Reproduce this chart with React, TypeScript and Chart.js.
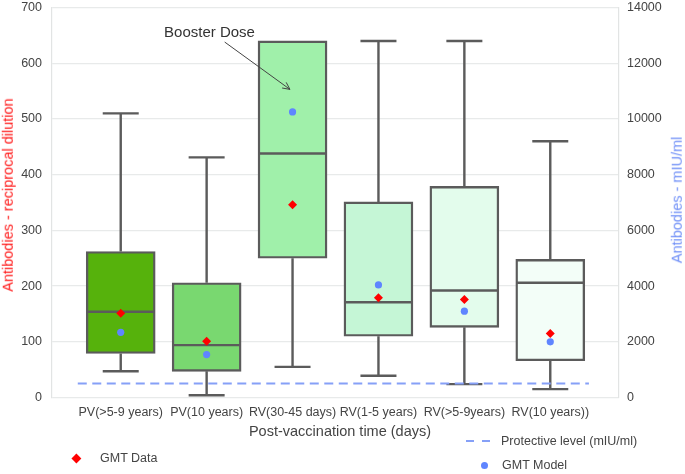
import React, { useEffect, useRef } from 'react';
import { Chart, registerables } from 'chart.js';

Chart.register(...registerables);

// ---------- data ----------
const categories = [
  'PV(>5-9 years)',
  'PV(10 years)',
  'RV(30-45 days)',
  'RV(1-5 years)',
  'RV(>5-9years)',
  'RV(10 years))',
];
const positions = [1, 2, 3, 4, 5, 6];
const whiskerMin = [47, 4, 55, 39, 24, 15];
const q1 = [79, 47, 250, 110, 126, 66];
const median = [154, 94, 438, 171, 192, 206];
const q3 = [262, 206, 640, 351, 379, 248];
const whiskerMax = [510, 431, 640, 640, 640, 460];
const gmtData = [151, 101, 346, 179, 176, 115]; // reciprocal dilution
const gmtModel = [2340, 1540, 10250, 4040, 3100, 2000]; // mIU/ml
const protectiveLevel = 500; // mIU/ml
const protectiveSpan = [0.5, 6.45];
const leftTicks = [0, 100, 200, 300, 400, 500, 600, 700];
const rightTicks = [0, 2000, 4000, 6000, 8000, 10000, 12000, 14000];
const boosterArrowFrom = { x: 2.21, y: 638 };
const boosterArrowTo = { x: 2.97, y: 553 };

// ---------- styles ----------
const boxColors = ['#56b20c', '#79d870', '#a0f0aa', '#c5f6d6', '#e3fcec', '#f3fef8'];
const edgeColor = '#5b5b5b';
const FONT = '"Liberation Sans", Arial, sans-serif';
const TEXT = '#444444';
const GRID = '#e8eaea';

const boxPlugin = {
  id: 'boxWhisker',
  afterDatasetDraw(chart: any, args: any) {
    if (args.index !== 0) return;
    const { ctx } = chart;
    const x = chart.scales.x;
    const y = chart.scales.y;
    ctx.save();
    ctx.strokeStyle = edgeColor;
    ctx.lineWidth = 2.4;
    ctx.lineCap = 'butt';
    positions.forEach((p, i) => {
      const cx = x.getPixelForValue(p);
      const half = 34.5;
      const cap = 18;
      const pMax = y.getPixelForValue(whiskerMax[i]);
      const pMin = y.getPixelForValue(whiskerMin[i]);
      const pQ1 = y.getPixelForValue(q1[i]);
      const pQ3 = y.getPixelForValue(q3[i]);
      const pMed = y.getPixelForValue(median[i]);
      ctx.beginPath();
      if (whiskerMax[i] > q3[i]) {
        ctx.moveTo(cx, pQ3);
        ctx.lineTo(cx, pMax);
        ctx.moveTo(cx - cap, pMax);
        ctx.lineTo(cx + cap, pMax);
      }
      ctx.moveTo(cx, pQ1);
      ctx.lineTo(cx, pMin);
      ctx.moveTo(cx - cap, pMin);
      ctx.lineTo(cx + cap, pMin);
      ctx.moveTo(cx - half + 1, pMed);
      ctx.lineTo(cx + half - 1, pMed);
      ctx.stroke();
    });
    ctx.restore();
  },
  afterDraw(chart: any) {
    const { ctx } = chart;
    const x = chart.scales.x;
    const y = chart.scales.y;
    const x1 = x.getPixelForValue(boosterArrowFrom.x);
    const y1 = y.getPixelForValue(boosterArrowFrom.y);
    const x2 = x.getPixelForValue(boosterArrowTo.x);
    const y2 = y.getPixelForValue(boosterArrowTo.y);
    const ang = Math.atan2(y2 - y1, x2 - x1);
    ctx.save();
    ctx.strokeStyle = '#444';
    ctx.lineWidth = 1;
    ctx.beginPath();
    ctx.moveTo(x1, y1);
    ctx.lineTo(x2, y2);
    const L = 8;
    ctx.moveTo(x2 - L * Math.cos(ang - 0.45), y2 - L * Math.sin(ang - 0.45));
    ctx.lineTo(x2, y2);
    ctx.lineTo(x2 - L * Math.cos(ang + 0.45), y2 - L * Math.sin(ang + 0.45));
    ctx.stroke();
    ctx.restore();
  },
};

const abs = (s: React.CSSProperties): React.CSSProperties => ({
  position: 'absolute',
  whiteSpace: 'nowrap',
  fontFamily: FONT,
  lineHeight: 1,
  ...s,
});

export default function App() {
  const ref = useRef<HTMLCanvasElement | null>(null);

  useEffect(() => {
    document.body.style.margin = '0';
    const canvas = ref.current;
    if (!canvas) return;
    const chart = new Chart(canvas, {
      type: 'bar',
      data: {
        datasets: [
          {
            type: 'bar',
            label: 'Box',
            data: positions.map((p, i) => ({ x: p, y: [q1[i], q3[i]] })) as any,
            backgroundColor: boxColors,
            borderColor: edgeColor,
            borderWidth: 2.4,
            borderSkipped: false,
            barThickness: 69,
            yAxisID: 'y',
            order: 4,
          } as any,
          {
            type: 'line',
            label: 'Protective level (mIU/ml)',
            data: protectiveSpan.map((v) => ({ x: v, y: protectiveLevel })),
            borderColor: '#86a0f7',
            borderWidth: 2,
            borderDash: [9, 5.5],
            pointRadius: 0,
            yAxisID: 'y2',
            order: 3,
          } as any,
          {
            type: 'scatter',
            label: 'GMT Data',
            data: positions.map((p, i) => ({ x: p, y: gmtData[i] })),
            backgroundColor: '#ff0000',
            borderColor: '#ff0000',
            pointStyle: 'rectRot',
            pointRadius: 4.5,
            borderWidth: 0,
            yAxisID: 'y',
            order: 2,
          } as any,
          {
            type: 'scatter',
            label: 'GMT Model',
            data: positions.map((p, i) => ({ x: p, y: gmtModel[i] })),
            backgroundColor: '#5f85ff',
            borderColor: '#5f85ff',
            pointStyle: 'circle',
            pointRadius: 3.6,
            borderWidth: 0,
            yAxisID: 'y2',
            order: 1,
          } as any,
        ],
      },
      options: {
        responsive: false,
        animation: false,
        layout: { padding: { top: 7.5, left: 0, right: 0, bottom: 0 } },
        plugins: {
          legend: { display: false },
          tooltip: { enabled: false },
        },
        scales: {
          x: {
            type: 'linear',
            min: 0.2,
            max: 6.8,
            offset: false,
            afterBuildTicks: (axis: any) => {
              axis.ticks = positions.map((v) => ({ value: v }));
            },
            afterFit: (axis: any) => {
              axis.height = 76.5;
              axis.paddingLeft = 0;
              axis.paddingRight = 0;
            },
            grid: { display: false, offset: false },
            border: { display: false },
            ticks: {
              autoSkip: false,
              maxRotation: 0,
              minRotation: 0,
              padding: 0,
              color: TEXT,
              font: { family: FONT, size: 12.5 },
              callback: (v: any) => categories[positions.indexOf(Number(v))] ?? '',
            },
          },
          y: {
            type: 'linear',
            position: 'left',
            min: 0,
            max: 700,
            afterBuildTicks: (axis: any) => {
              axis.ticks = leftTicks.map((v) => ({ value: v }));
            },
            afterFit: (axis: any) => {
              axis.width = 52;
              axis.paddingTop = 0;
              axis.paddingBottom = 0;
            },
            grid: { color: GRID, lineWidth: 1.2, drawTicks: false },
            border: { display: true, color: '#e2e4e4', width: 1.2 },
            ticks: {
              padding: 10,
              color: TEXT,
              font: { family: FONT, size: 12.5 },
              callback: (v: any) => String(v),
            },
          },
          y2: {
            type: 'linear',
            position: 'right',
            min: 0,
            max: 14000,
            afterBuildTicks: (axis: any) => {
              axis.ticks = rightTicks.map((v) => ({ value: v }));
            },
            afterFit: (axis: any) => {
              axis.width = 66;
              axis.paddingTop = 0;
              axis.paddingBottom = 0;
            },
            grid: { drawOnChartArea: false, drawTicks: false },
            border: { display: true, color: '#e2e4e4', width: 1.2 },
            ticks: {
              padding: 8,
              color: TEXT,
              font: { family: FONT, size: 12.5 },
              callback: (v: any) => String(v),
            },
          },
        },
      } as any,
      plugins: [boxPlugin],
    });
    return () => chart.destroy();
  }, []);

  return (
    <div style={{ position: 'relative', width: 685, height: 474, background: '#fff', overflow: 'hidden' }}>
      <canvas ref={ref} width={685} height={474} style={{ display: 'block', width: 685, height: 474 }} />
      <div
        style={abs({
          left: 8,
          top: 195,
          transform: 'translate(-50%, -50%) rotate(-90deg)',
          color: '#ff1a1a',
          fontSize: 14.5,
        })}
      >
        Antibodies - reciprocal dilution
      </div>
      <div
        style={abs({
          left: 677,
          top: 200,
          transform: 'translate(-50%, -50%) rotate(-90deg)',
          color: '#6f8ff7',
          fontSize: 14.5,
        })}
      >
        Antibodies - mIU/ml
      </div>
      <div style={abs({ left: 340, top: 431, transform: 'translate(-50%, -50%)', color: TEXT, fontSize: 14.5 })}>
        Post-vaccination time (days)
      </div>
      <div style={abs({ left: 209.5, top: 31, transform: 'translate(-50%, -50%)', color: '#333', fontSize: 15 })}>
        Booster Dose
      </div>
      {/* legend */}
      <div
        style={{
          position: 'absolute',
          left: 76 - 3.4,
          top: 458 - 3.4,
          width: 6.8,
          height: 6.8,
          background: '#ff0000',
          transform: 'rotate(45deg)',
        }}
      />
      <div style={abs({ left: 100, top: 458, transform: 'translateY(-50%)', color: TEXT, fontSize: 12.5 })}>GMT Data</div>
      <div style={{ position: 'absolute', left: 466, top: 440, width: 8, height: 2, background: '#86a0f7' }} />
      <div style={{ position: 'absolute', left: 482, top: 440, width: 8, height: 2, background: '#86a0f7' }} />
      <div style={abs({ left: 501, top: 441, transform: 'translateY(-50%)', color: TEXT, fontSize: 12.5 })}>
        Protective level (mIU/ml)
      </div>
      <div
        style={{
          position: 'absolute',
          left: 484 - 3.5,
          top: 465 - 3.5,
          width: 7,
          height: 7,
          borderRadius: '50%',
          background: '#5f85ff',
        }}
      />
      <div style={abs({ left: 502, top: 465, transform: 'translateY(-50%)', color: TEXT, fontSize: 12.5 })}>GMT Model</div>
    </div>
  );
}
